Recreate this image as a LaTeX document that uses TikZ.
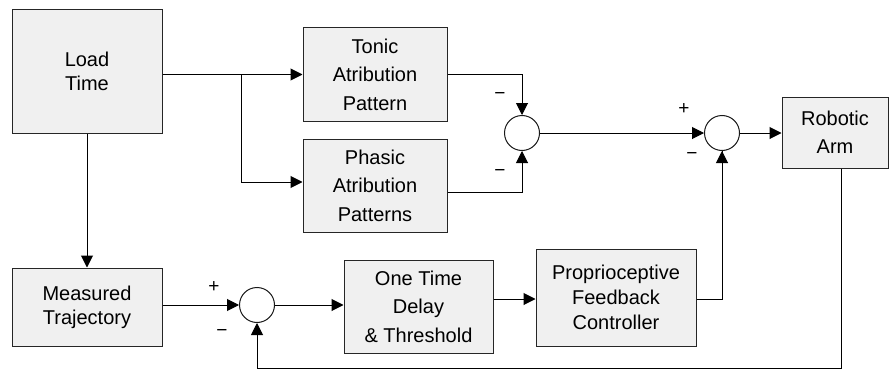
\documentclass[tikz,border=0pt]{standalone}
\usepackage{fontspec}
\setmainfont{Liberation Sans}
\usetikzlibrary{arrows.meta}

\tikzset{
  block/.style={draw=black!85, line width=1pt, fill=gray!12, inner sep=0pt,
                align=center, font=\fontsize{20}{24}\selectfont},
  tallblock/.style={block, font=\fontsize{20}{28.5}\selectfont},
  sumnode/.style={draw=black!90, line width=1pt, circle, fill=white,
                  minimum size=35pt, inner sep=0pt},
  link/.style={line width=1pt, -{Triangle[length=12pt,width=12pt]}},
  plain/.style={line width=1pt},
  sign/.style={font=\fontsize{19}{19}\selectfont, inner sep=0pt}
}

\begin{document}
\begin{tikzpicture}[x=1pt,y=-1pt]
        \useasboundingbox (0,0) rectangle (889,369);
        \node [block, minimum width=150pt, minimum height=123pt]     (load)    at (87,71.5)    {Load\\Time};                        %
        \node [tallblock, minimum width=144pt, minimum height=93pt]  (tonic)   at (375,74.5)   {Tonic\\Atribution\\Pattern};        %
        \node [tallblock, minimum width=144pt, minimum height=93pt]  (phasic)  at (375,185.5)  {Phasic\\Atribution\\Patterns};      %
        \node [block, minimum width=150pt, minimum height=78pt]      (meas)    at (87,307)     {Measured\\Trajectory};              %
        \node [tallblock, minimum width=149pt, minimum height=93pt]  (delay)   at (418.5,306.5){One Time\\Delay\\\& Threshold};     %
        \node [block, minimum width=160pt, minimum height=97pt, font=\fontsize{20}{25}\selectfont]
                                                                     (proprio) at (616,297.5)  {Proprioceptive\\Feedback\\Controller};
        \node [tallblock, minimum width=106pt, minimum height=71pt]  (arm)     at (835,132.5)  {Robotic\\Arm};                      %

        \node [sumnode] (sum1) at (522,133) {};                                                  %tonic - phasic
        \node [sumnode] (sum2) at (722,133) {};                                                  %arm input
        \node [sumnode] (sum3) at (257,305) {};                                                  %trajectory error

        \node [sign] (s1a) at (500,96)  {−};                                                     %
        \node [sign] (s1b) at (500,173) {−};                                                     %
        \node [sign] (s2a) at (684,109) {+};                                                     %
        \node [sign] (s2b) at (692,156) {−};                                                     %
        \node [sign] (s3a) at (214,287) {+};                                                     %
        \node [sign] (s3b) at (222,333) {−};                                                     %

        \coordinate (split) at (241,74.5);                                                       %
        \coordinate (fbk)   at (841,368);                                                        %
        \draw [plain] (load.east |- split) -- (split);                                           %
        \draw [link]  (split) -- (tonic.west);                                                   %
        \draw [link]  (split) |- ([yshift=3.5pt]phasic.west);                                    %
        \draw [link]  (load.south) -- (meas.north);                                              %
        \draw [link]  (tonic.east) -| (sum1.north);                                              %
        \draw [link]  ([yshift=-6.5pt]phasic.east) -| (sum1.south);                              %
        \draw [link]  (sum1.east) -- (sum2.west);                                                %
        \draw [link]  (sum2.east) -- (sum2.east -| arm.west);                                    %
        \draw [link]  (sum3.west -| meas.east) -- (sum3.west);                                   %
        \draw [link]  (sum3.east) -- (sum3.east -| delay.west);                                  %
        \draw [link]  ([yshift=-1.5pt]proprio.west -| delay.east) -- ([yshift=-1.5pt]proprio.west);
        \draw [plain] ([yshift=-1.5pt]proprio.east) -| (sum2.south);                             %
        \draw [link]  ([yshift=-1.5pt]proprio.east -| sum2.south) -- (sum2.south);               %
        \draw [link]  (arm.south -| fbk) -- (fbk) -| (sum3.south);                               %feedback
\end{tikzpicture}
\end{document}
